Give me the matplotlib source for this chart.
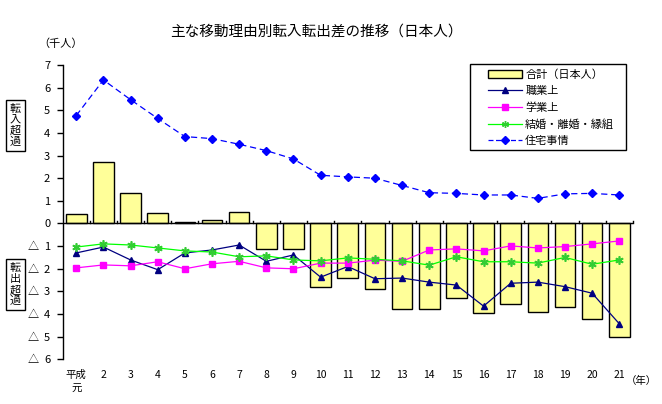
import numpy as np
import matplotlib
matplotlib.use("Agg")
import matplotlib.pyplot as plt
from matplotlib.patches import Patch, Rectangle
from matplotlib.lines import Line2D

plt.rcParams['font.family'] = ['Noto Sans CJK JP', 'DejaVu Sans']

years = ['平成\n元'] + [str(i) for i in range(2, 22)]

# 千人, 転出超過はマイナス
total = [0.42, 2.73, 1.35, 0.46, 0.06, 0.15, 0.51, -1.12, -1.12, -2.79,
         -2.40, -2.88, -3.76, -3.76, -3.27, -3.97, -3.54, -3.89, -3.71, -4.24, -5.03]
job = [-1.30, -1.04, -1.61, -2.04, -1.30, -1.17, -0.95, -1.67, -1.39, -2.37,
       -1.90, -2.44, -2.41, -2.59, -2.72, -3.65, -2.64, -2.59, -2.79, -3.08, -4.43]
school = [-1.96, -1.83, -1.87, -1.69, -2.00, -1.78, -1.67, -1.96, -2.00, -1.75,
          -1.75, -1.62, -1.67, -1.17, -1.12, -1.21, -0.99, -1.08, -1.02, -0.90, -0.77]
marriage = [-1.04, -0.90, -0.95, -1.08, -1.21, -1.26, -1.47, -1.43, -1.61, -1.65,
            -1.52, -1.58, -1.65, -1.84, -1.47, -1.69, -1.69, -1.75, -1.50, -1.80, -1.61]
housing = [4.77, 6.34, 5.47, 4.64, 3.84, 3.75, 3.50, 3.22, 2.85, 2.13,
           2.06, 2.00, 1.68, 1.36, 1.33, 1.26, 1.26, 1.11, 1.31, 1.33, 1.26]

ytick_vals = list(range(-6, 8))
ytick_labels = [str(abs(v)) for v in ytick_vals]

fig = plt.figure(figsize=(6.62, 4.04), dpi=100)
ax = fig.add_axes([0.0947, 0.1106, 0.956 - 0.0947, 0.839 - 0.1106])

x = np.arange(len(years))
ax.bar(x, total, width=0.76, color='#FFFF99', edgecolor='black', linewidth=1.0, zorder=1)

ax.plot(x, job, color='#000080', lw=0.9, marker='^', ms=4.5, zorder=3)
ax.plot(x, school, color='#FF00FF', lw=0.9, marker='s', ms=4.5, zorder=3)
ax.plot(x, marriage, color='#00FF00', lw=0.9, marker=(6, 2, 0), ms=6, mew=1.2,
        mec='#33CC33', zorder=3)
ax.plot(x, housing, color='#0000FF', lw=0.9, ls=(0, (5, 3)), marker='D', ms=4, zorder=3)

ax.set_xlim(-0.5, len(years) - 0.5)
ax.set_ylim(-6, 7)

for s in ['top', 'right', 'bottom']:
    ax.spines[s].set_visible(False)
ax.spines['left'].set_linewidth(1.0)
ax.axhline(0, color='black', lw=1.0, zorder=2)

ax.set_yticks(ytick_vals)
ax.set_yticklabels(ytick_labels, fontsize=8)
ax.tick_params(axis='y', direction='out', length=4, width=1, pad=5)
# 転出超過側の△
ytr = ax.get_yaxis_transform()
for v in ytick_vals:
    if v < 0:
        ax.text(-0.052, v, '△', transform=ytr, ha='center', va='center_baseline',
                fontsize=8)

# x ticks at category boundaries on the zero line
ax.set_xticks([])
for b in np.arange(0.5, len(years) - 0.5 + 1e-9, 1.0):
    ax.plot([b, b], [0, 0.12], color='black', lw=1.0, zorder=2, clip_on=False)
for i, lab in enumerate(years):
    ax.text(i, -6.45, lab, ha='center', va='top', fontsize=7.5, linespacing=1.5)
ax.text(len(years) - 0.75, -6.75, '（年）', ha='left', va='top', fontsize=7.5)

fig.text(0.478, 0.923, '主な移動理由別転入転出差の推移（日本人）', ha='center', va='center', fontsize=10.5)
fig.text(0.058, 0.893, '（千人）', ha='left', va='center', fontsize=8)

box = dict(boxstyle='square,pad=0.35', facecolor='white', edgecolor='black', lw=1.0)
fig.text(0.023, 0.69, '転\n入\n超\n過', ha='center', va='center', fontsize=8,
         linespacing=1.1, bbox=box)
fig.text(0.023, 0.295, '転\n出\n超\n過', ha='center', va='center', fontsize=8,
         linespacing=1.1, bbox=box)

# legend frame drawn by hand so the padding matches
fig.patches.append(Rectangle((0.710, 0.6287), 0.2356, 0.2129, transform=fig.transFigure,
                             facecolor='white', edgecolor='black', lw=1.0, zorder=4))
handles = [
    Patch(facecolor='#FFFF99', edgecolor='black', label='合計（日本人）'),
    Line2D([], [], color='#000080', lw=0.9, marker='^', ms=4, label='職業上'),
    Line2D([], [], color='#FF00FF', lw=0.9, marker='s', ms=4, label='学業上'),
    Line2D([], [], color='#00FF00', lw=0.9, marker=(6, 2, 0), ms=5, mec='#33CC33',
           label='結婚・離婚・縁組'),
    Line2D([], [], color='#0000FF', lw=0.9, ls=(0, (4, 2)), marker='D', ms=4, label='住宅事情'),
]
leg = fig.legend(handles=handles, loc='upper left', bbox_to_anchor=(0.737, 0.829),
                 fontsize=8, frameon=False, borderpad=0, borderaxespad=0,
                 labelspacing=0.56, handlelength=3.06, handletextpad=0.3)
leg.set_zorder(5)

fig.savefig('out.png', dpi=100)
